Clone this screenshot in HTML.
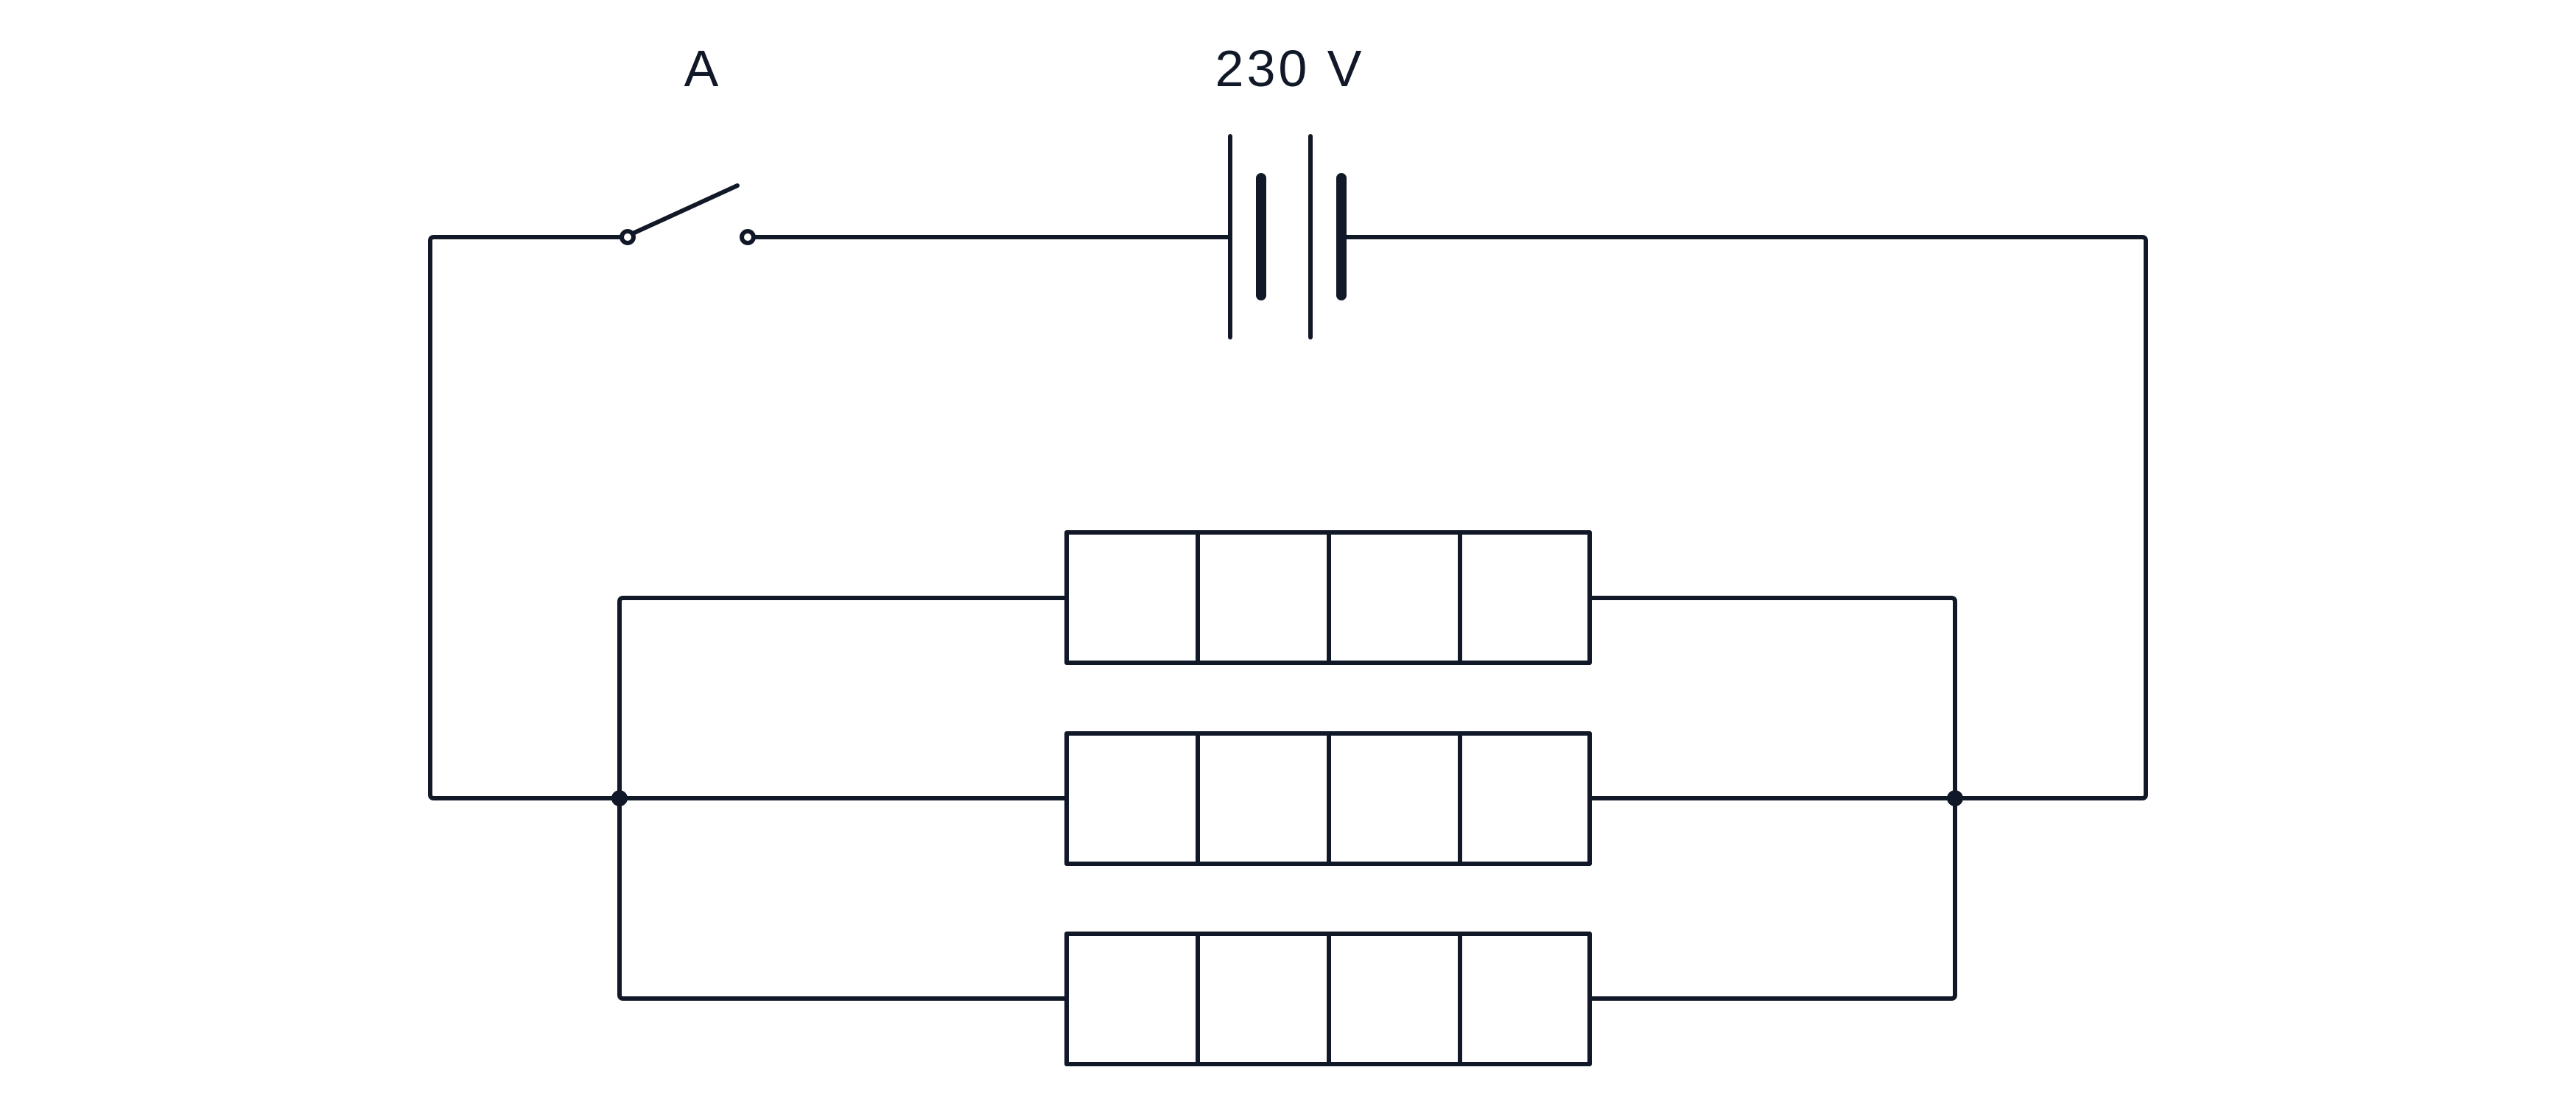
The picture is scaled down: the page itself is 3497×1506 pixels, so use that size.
<!DOCTYPE html>
<html><head><meta charset="utf-8"><style>
html,body{margin:0;padding:0;background:#fff;width:3497px;height:1506px;overflow:hidden}
</style></head><body>
<svg width="3497" height="1506" viewBox="0 0 3497 1506" xmlns="http://www.w3.org/2000/svg">
<g stroke="#111827" stroke-width="6" fill="none" stroke-linecap="round" stroke-linejoin="round">
<path d="M844 322 H589 Q584 322 584 327 V1079 Q584 1084 589 1084 H1448"/>
<line x1="859" y1="317" x2="1001" y2="252"/>
<circle cx="852" cy="322" r="8" fill="#fff"/>
<circle cx="1015" cy="322" r="8" fill="#fff"/>
<line x1="1023" y1="322" x2="1670" y2="322"/>
<line x1="1670" y1="185" x2="1670" y2="458"/>
<line x1="1779" y1="185" x2="1779" y2="458"/>
<line x1="1712" y1="242" x2="1712" y2="401" stroke-width="14"/>
<line x1="1821" y1="242" x2="1821" y2="401" stroke-width="14"/>
<path d="M1821 322 H2908 Q2913 322 2913 327 V1079 Q2913 1084 2908 1084 H2158"/>
<path d="M1448 812 H846 Q841 812 841 817 V1351 Q841 1356 846 1356 H1448"/>
<path d="M2158 812 H2649 Q2654 812 2654 817 V1351 Q2654 1356 2649 1356 H2158"/>
<rect x="1448" y="723" width="710" height="177"/>
<line x1="1626" y1="723" x2="1626" y2="900"/><line x1="1804" y1="723" x2="1804" y2="900"/><line x1="1982" y1="723" x2="1982" y2="900"/>
<rect x="1448" y="996" width="710" height="177"/>
<line x1="1626" y1="996" x2="1626" y2="1173"/><line x1="1804" y1="996" x2="1804" y2="1173"/><line x1="1982" y1="996" x2="1982" y2="1173"/>
<rect x="1448" y="1268" width="710" height="177"/>
<line x1="1626" y1="1268" x2="1626" y2="1445"/><line x1="1804" y1="1268" x2="1804" y2="1445"/><line x1="1982" y1="1268" x2="1982" y2="1445"/>
</g>
<circle cx="841" cy="1084" r="11" fill="#111827"/>
<circle cx="2654" cy="1084" r="11" fill="#111827"/>
<g fill="#111827" font-family="Liberation Sans, sans-serif" font-size="70" text-anchor="middle">
<text x="952" y="117">A</text>
<text x="1751" y="117" letter-spacing="4">230 V</text>
</g>
</svg>
</body></html>
